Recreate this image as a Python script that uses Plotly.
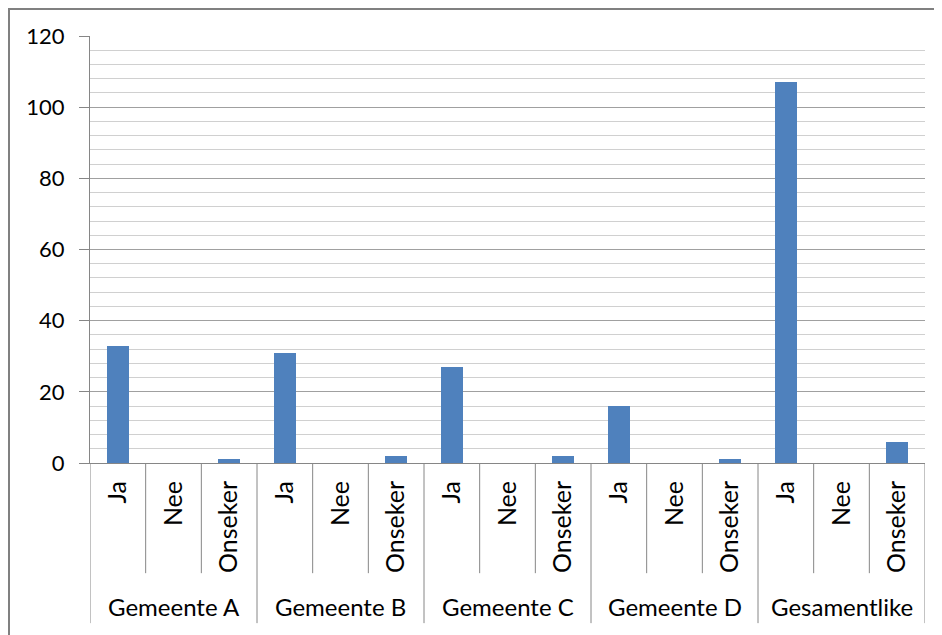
import plotly.graph_objects as go

groups = ["Gemeente A", "Gemeente B", "Gemeente C", "Gemeente D", "Gesamentlike"]
answers = ["Ja", "Nee", "Onseker"]
values = [
    [33, 0, 1],
    [31, 0, 2],
    [27, 0, 2],
    [16, 0, 1],
    [107, 0, 6],
]

# flatten into one position per bar
x_pos = []
y_vals = []
tick_text = []
for g, grp in enumerate(groups):
    for a, ans in enumerate(answers):
        x_pos.append(g * len(answers) + a)
        y_vals.append(values[g][a])
        tick_text.append(ans)

n = len(x_pos)
font = "Lato, 'Open Sans', sans-serif"
line_col = "#868686"

fig = go.Figure(go.Bar(
    x=x_pos,
    y=y_vals,
    width=0.4,
    marker=dict(color="#4f81bd", line=dict(width=0)),
))

shapes = []
# thin dividers between answers inside a group
for i in range(n - 1):
    if (i + 1) % len(answers) != 0:
        shapes.append(dict(type="line", xref="x", yref="paper",
                           x0=i + 0.5, x1=i + 0.5, y0=0, y1=-0.258,
                           line=dict(color=line_col, width=1)))
# long dividers between groups
for g in range(len(groups) + 1):
    xb = g * len(answers) - 0.5
    shapes.append(dict(type="line", xref="x", yref="paper",
                       x0=xb, x1=xb, y0=0, y1=-0.375,
                       line=dict(color=line_col, width=1)))
# outer chart frame (only left and top edges are in view)
shapes.append(dict(type="rect", xref="paper", yref="paper",
                   x0=-0.097, x1=1.05, y0=1.063, y1=-0.45,
                   line=dict(color="#808080", width=2)))

annotations = []
for g, grp in enumerate(groups):
    annotations.append(dict(
        x=g * len(answers) + 1, y=-0.335, xref="x", yref="paper",
        text=grp, showarrow=False, xanchor="center", yanchor="middle",
        font=dict(family=font, size=24, color="#000000"),
    ))

fig.update_layout(
    width=942, height=635,
    margin=dict(l=82, r=25, t=28, b=180),
    paper_bgcolor="white", plot_bgcolor="white",
    showlegend=False,
    shapes=shapes,
    annotations=annotations,
    bargap=0,
)
fig.update_xaxes(
    range=[-0.5, n - 0.5],
    tickmode="array", tickvals=x_pos, ticktext=tick_text,
    tickangle=-90, ticks="", ticklabelstandoff=7,
    tickfont=dict(family=font, size=25, color="#000000"),
    showgrid=False, zeroline=False,
    showline=True, linecolor=line_col, linewidth=1,
)
fig.update_yaxes(
    range=[0, 120], dtick=20,
    ticks="outside", ticklen=10, tickcolor=line_col,
    ticklabelstandoff=10,
    tickfont=dict(family=font, size=22, color="#000000"),
    showgrid=True, gridcolor="#a0a0a0", gridwidth=1,
    minor=dict(dtick=4, showgrid=True, gridcolor="#d0d0d0", gridwidth=1, ticks=""),
    zeroline=False,
    showline=True, linecolor=line_col, linewidth=1,
)

fig.write_html("out.html")
